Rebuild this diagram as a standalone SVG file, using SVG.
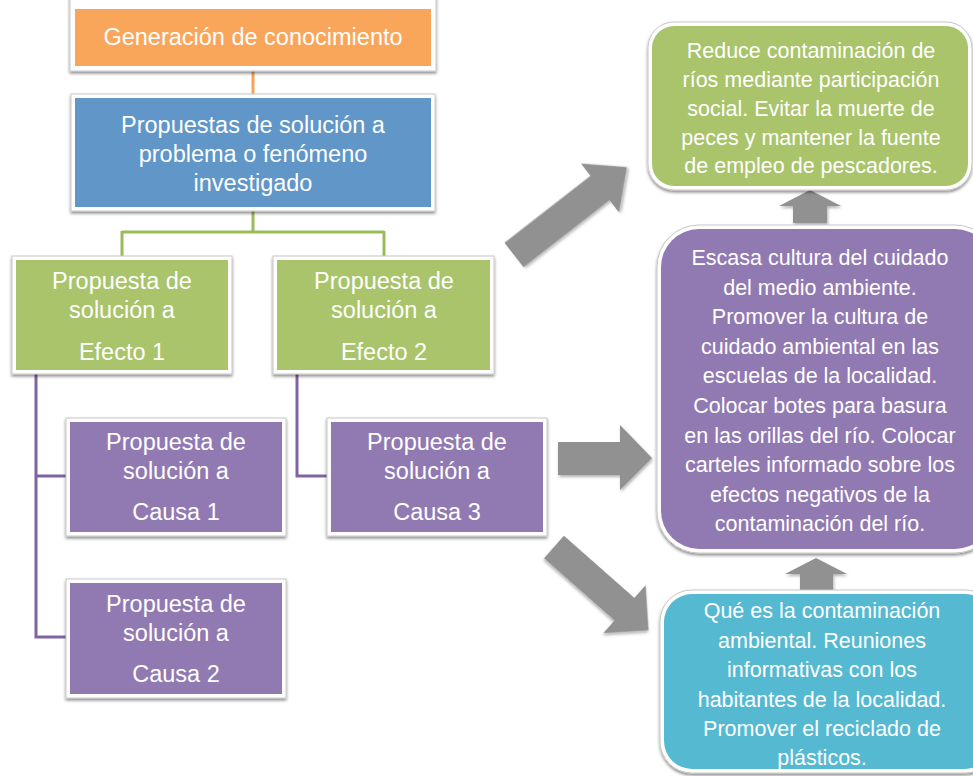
<svg xmlns="http://www.w3.org/2000/svg" width="973" height="776" viewBox="0 0 973 776">
<defs>
<filter id="sh" x="-10%" y="-10%" width="120%" height="130%">
<feDropShadow dx="0" dy="2" stdDeviation="1.5" flood-color="#000" flood-opacity="0.45"/>
</filter>
<filter id="ash" x="-20%" y="-20%" width="140%" height="140%">
<feDropShadow dx="1" dy="2" stdDeviation="1.5" flood-color="#000" flood-opacity="0.3"/>
</filter>
<style>
.frame{fill:#ffffff;stroke:#c8c8c8;stroke-width:1;filter:url(#sh)}
.t{font-family:"Liberation Sans",Arial,sans-serif;fill:#ffffff;text-anchor:middle}
.tl{font-size:23.5px}
.tr{font-size:21.5px}
.orange{fill:#f9a65a}
.blue{fill:#6096c8}
.green{fill:#a9c46b}
.purple{fill:#917ab2}
.cyan{fill:#55b9d2}
.arrow{fill:#919191;filter:url(#ash)}
.ln{fill:none;stroke-width:3}
</style>
</defs>
<rect width="973" height="776" fill="#ffffff"/>

<g id="connectors">
<path class="ln" d="M253,66 V95" stroke="#f8a35a"/>
<path class="ln" d="M253,207 V232 M122,232 H384 M122,231 V258 M384,231 V258" stroke="#9bbb59"/>
<path class="ln" d="M36,372 V637 H68 M36,476 H68 M297,372 V476 H329" stroke="#8064a2"/>
<path class="arrow" transform="translate(514,255) rotate(-37.9)" d="M0,-15.5 H109 V-31 L143,0 L109,31 V15.5 H0 Z"/>
<path class="arrow" d="M558,442 H620 V425 L652,458 L620,490 V475 H558 Z"/>
<path class="arrow" transform="translate(554,547) rotate(41.4)" d="M0,-15 H94 V-32 L126,0 L94,32 V15 H0 Z"/>
<path class="arrow" d="M810,190 L841,206 H827 V223 H793 V206 H779 Z"/>
<path class="arrow" d="M816,558 L847,574 H833 V592 H800 V574 H785 Z"/>
</g>

<g id="n-generacion">
<rect class="frame" x="70" y="-20" width="366" height="91"/>
<rect class="orange" x="75" y="9" width="356" height="57"/>
<text class="t tl" x="253" y="45">Generación de conocimiento</text>
</g>

<g id="n-propuestas">
<rect class="frame" x="71" y="94" width="364" height="117"/>
<rect class="blue" x="75" y="98" width="356" height="109"/>
<text class="t tl" x="253" y="133">Propuestas de solución a</text>
<text class="t tl" x="253" y="162">problema o fenómeno</text>
<text class="t tl" x="253" y="191">investigado</text>
</g>

<g id="n-efecto1">
<rect class="frame" x="12" y="256" width="220" height="118"/>
<rect class="green" x="16" y="260" width="212" height="110"/>
<text class="t tl" x="122" y="289">Propuesta de</text>
<text class="t tl" x="122" y="318">solución a</text>
<text class="t tl" x="122" y="360">Efecto 1</text>
</g>

<g id="n-efecto2">
<rect class="frame" x="273" y="256" width="221" height="118"/>
<rect class="green" x="277" y="260" width="213" height="110"/>
<text class="t tl" x="384" y="289">Propuesta de</text>
<text class="t tl" x="384" y="318">solución a</text>
<text class="t tl" x="384" y="360">Efecto 2</text>
</g>

<g id="n-causa1">
<rect class="frame" x="66" y="418" width="220" height="118"/>
<rect class="purple" x="70" y="422" width="212" height="110"/>
<text class="t tl" x="176" y="450">Propuesta de</text>
<text class="t tl" x="176" y="479">solución a</text>
<text class="t tl" x="176" y="520">Causa 1</text>
</g>

<g id="n-causa3">
<rect class="frame" x="327" y="418" width="220" height="118"/>
<rect class="purple" x="331" y="422" width="212" height="110"/>
<text class="t tl" x="437" y="450">Propuesta de</text>
<text class="t tl" x="437" y="479">solución a</text>
<text class="t tl" x="437" y="520">Causa 3</text>
</g>

<g id="n-causa2">
<rect class="frame" x="66" y="579" width="220" height="119"/>
<rect class="purple" x="70" y="583" width="212" height="111"/>
<text class="t tl" x="176" y="612">Propuesta de</text>
<text class="t tl" x="176" y="641">solución a</text>
<text class="t tl" x="176" y="682">Causa 2</text>
</g>

<g id="n-reduce">
<rect class="frame" x="648" y="22" width="324" height="168" rx="26"/>
<rect class="green" x="652" y="26" width="316" height="160" rx="22"/>
<text class="t tr" x="811" y="58">Reduce contaminación de</text>
<text class="t tr" x="811" y="87">ríos mediante participación</text>
<text class="t tr" x="811" y="116">social. Evitar la muerte de</text>
<text class="t tr" x="811" y="145">peces y mantener la fuente</text>
<text class="t tr" x="811" y="173">de empleo de pescadores.</text>
</g>

<g id="n-escasa">
<rect class="frame" x="657" y="225" width="340" height="328" rx="42"/>
<rect class="purple" x="661" y="229" width="332" height="320" rx="38"/>
<text class="t tr" x="820" y="265">Escasa cultura del cuidado</text>
<text class="t tr" x="820" y="294.6">del medio ambiente.</text>
<text class="t tr" x="820" y="324.2">Promover la cultura de</text>
<text class="t tr" x="820" y="353.8">cuidado ambiental en las</text>
<text class="t tr" x="820" y="383.4">escuelas de la localidad.</text>
<text class="t tr" x="820" y="413">Colocar botes para basura</text>
<text class="t tr" x="820" y="442.6">en las orillas del río. Colocar</text>
<text class="t tr" x="820" y="472.2">carteles informado sobre los</text>
<text class="t tr" x="820" y="501.8">efectos negativos de la</text>
<text class="t tr" x="820" y="531.4">contaminación del río.</text>
</g>

<g id="n-que-es">
<rect class="frame" x="660" y="590" width="337" height="183" rx="32"/>
<rect class="cyan" x="664" y="594" width="329" height="175" rx="28"/>
<text class="t tr" x="822" y="618">Qué es la contaminación</text>
<text class="t tr" x="822" y="647.5">ambiental. Reuniones</text>
<text class="t tr" x="822" y="677">informativas con los</text>
<text class="t tr" x="822" y="706.5">habitantes de la localidad.</text>
<text class="t tr" x="822" y="736">Promover el reciclado de</text>
<text class="t tr" x="822" y="765">plásticos.</text>
</g>
</svg>
